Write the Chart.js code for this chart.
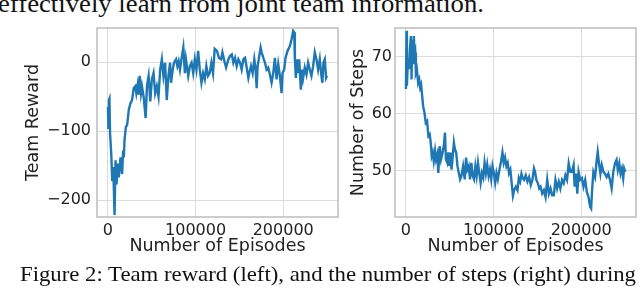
<!DOCTYPE html>
<html><head><meta charset="utf-8">
<script src="https://cdn.jsdelivr.net/npm/chart.js@4/dist/chart.umd.min.js"></script>
<style>
html,body{margin:0;padding:0;background:#fff;width:640px;height:288px;overflow:hidden;position:relative}
.c{position:absolute;top:0;height:288px}
#topText{position:absolute;left:-2px;top:-11px;font-family:"Liberation Serif";font-size:25px;line-height:29px;white-space:nowrap;color:#111;transform-origin:0 0}
#caption{position:absolute;left:20px;top:261px;font-family:"Liberation Serif";font-size:21px;line-height:26px;white-space:nowrap;color:#111;transform-origin:0 0}
</style></head><body>
<div id="topText">effectively learn from joint team information.</div>
<div class="c" style="left:0;width:345px"><canvas id="left"></canvas></div>
<div class="c" style="left:340px;width:300px"><canvas id="right"></canvas></div>
<div id="caption">Figure 2: Team reward (left), and the number of steps (right) during</div>
<script>
// ---- data ----
const xTickValues = [0, 100000, 200000];
const leftYTicks = [-200, -100, 0];
const rightYTicks = [50, 60, 70];

const episodesLeft = [0,500,1100,1700,2400,3770,4900,6030,7540,8670,9800,11300,12400,14300,16200,17300,18100,18900,20400,21900,23800,25600,27500,29400,31300,32400,33900,35100,36200,37700,38800,40700,43000,44500,46400,48300,50100,52000,53900,55800,57700,59600,61500,63300,65200,67100,69000,70900,72000,73900,75400,77700,79200,80700,82200,84100,86000,87800,89000,91600,93500,95400,97300,99100,101000,102900,104800,106700,108600,110500,112300,114200,116100,118000,119900,121800,124400,126700,129100,130600,132900,134800,137500,139400,141300,143100,145000,146900,148800,150700,152600,154500,156400,158300,160200,161300,163200,165100,167000,168500,169700,170800,172300,174200,175400,177300,179200,181000,182900,184800,186700,188600,190500,192400,194300,196200,198100,199200,201100,202600,204900,207600,209500,211400,212500,213300,214400,215500,217100,218200,220100,221600,222700,224600,226500,228400,230300,232200,234100,236000,237900,239800,241700,243600,244700,245900,247400,248900,250000];
const teamReward = [-65,-95,-55,-53,-103,-133,-172,-152,-221,-142,-177,-147,-167,-138,-162,-128,-138,-113,-94,-91,-69,-60,-55,-38,-35,-45,-33,-47,-20,-45,-35,-50,-81,-35,-20,-57,-25,-16,-45,-35,-50,-11,4,-20,-1,-55,-20,-1,-30,-11,-1,4,-6,1,-11,6,21,-16,4,-20,-6,-1,-16,4,-11,16,-11,-30,-16,-25,-6,-20,-16,-1,-16,19,16,6,4,14,1,-8,4,9,11,-1,6,-6,4,-1,-11,4,6,-8,-23,-16,-6,-16,4,-11,-38,-6,6,21,14,6,-1,-11,-8,-18,-30,-16,6,-25,-3,-20,-45,-16,-11,6,16,23,33,45,43,4,-23,4,-16,4,-40,-11,-23,-8,-18,-1,-11,-20,-6,14,4,-11,4,-20,-30,-1,4,-23,-20];

const episodesRight = [0,600,1100,2260,3400,4500,5650,6400,7160,8300,9000,9800,10600,11300,12400,13900,15100,16200,17300,18500,19600,21100,22600,24100,25600,27100,28300,29400,30500,31700,33200,34300,35800,36900,38500,40000,41800,43400,44500,45600,47100,48300,49800,50900,52000,53100,54700,55800,57300,58800,60300,61800,63300,65200,67100,68600,70100,71600,73100,74600,76200,77700,79200,80700,82200,83700,85200,86700,88200,89700,91200,92700,94300,95800,97300,98800,100300,101800,103300,104800,106700,108600,110100,111600,113100,114600,116100,117600,119100,120600,122100,123700,125400,127300,128800,130300,131800,133300,134800,136700,138600,140500,142400,144300,146100,147300,148800,150600,152100,153600,155500,157400,159300,161200,163100,165000,166800,168700,170600,172500,174400,176200,178100,180000,181900,183800,185700,187600,189400,191300,192500,194000,195500,197000,198900,200800,202600,204500,206400,208300,210200,211300,212400,213900,215800,217700,218800,220300,221900,223400,225300,227100,229000,230900,232800,234700,236600,238500,240300,241800,243400,244900,246400,247900,249000,250300];
const numSteps = [64.3,74.5,64.9,69.5,67.8,71.3,73.6,66.0,73.0,68.9,73.6,70.1,70.7,67.2,67.8,65.4,66.0,64.6,65.1,63.1,61.3,60.2,58.4,58.7,56.1,56.4,54.9,52.6,53.2,51.7,53.5,52.0,52.9,49.6,54.3,52.0,53.2,54.6,56.7,52.0,51.4,53.2,50.8,53.2,50.2,52.0,54.9,53.8,53.2,50.8,49.6,48.5,49.1,50.8,48.5,52.3,50.2,50.8,48.5,51.4,49.1,48.5,50.8,49.1,51.4,49.6,47.9,49.6,48.8,51.4,49.6,51.1,49.1,50.2,48.5,50.8,49.6,47.9,49.6,48.5,50.2,51.7,53.2,51.4,52.3,50.8,51.4,49.6,50.2,47.9,45.6,46.7,47.2,46.6,48.7,48.1,49.5,48.7,48.4,49.2,48.1,48.9,47.5,48.4,50.4,49.8,48.4,47.8,46.9,47.2,46.0,46.6,45.4,48.4,46.0,46.9,45.7,45.7,48.4,46.9,48.1,46.9,48.4,47.8,49.2,48.4,51.3,49.8,49.8,51.0,47.2,49.5,46.0,49.8,48.4,48.7,47.2,48.4,46.3,45.4,43.7,43.4,46.6,49.8,48.9,51.9,53.3,51.3,49.5,51.0,49.8,49.5,48.9,49.5,48.4,46.9,49.8,51.3,51.9,50.1,51.3,49.5,50.4,48.7,50.4,49.8];

// ---- text width fitting (styling only) ----
function fitWidth(id, target) {
  const el = document.getElementById(id);
  const w = el.getBoundingClientRect().width;
  el.style.transform = 'scaleX(' + (target / w) + ')';
}
fitWidth('topText', 486);
fitWidth('caption', 616);

// ---- rendering ----
const TICKFONT = {family: 'DejaVu Sans', size: 16};
const TITLEFONT = {family: 'DejaVu Sans', size: 17.5};
const TXT = '#222';
const fmt = v => (v < 0 ? '\u2212' + Math.abs(v) : String(v));
const spines = {
  id: 'spines',
  afterDatasetsDraw(chart) {
    const {ctx, chartArea: a} = chart;
    ctx.save();
    ctx.strokeStyle = '#bdbdbd';
    ctx.lineWidth = 1.5;
    ctx.strokeRect(a.left, a.top, a.right - a.left, a.bottom - a.top);
    ctx.restore();
  }
};

function makeChart(id, xs, ys, o) {
  const pts = xs.map((x, i) => ({x: x, y: ys[i]}));
  return new Chart(document.getElementById(id), {
    type: 'line',
    data: {datasets: [{data: pts, borderColor: '#1f77b4', borderWidth: 2.4, pointRadius: 0, tension: 0, fill: false}]},
    plugins: [spines],
    options: {
      responsive: true, maintainAspectRatio: false, animation: false, events: [],
      layout: {padding: {left: 0, top: 28, right: o.padRight, bottom: 0}},
      plugins: {legend: {display: false}, tooltip: {enabled: false}},
      scales: {
        x: {
          type: 'linear', min: -12500, max: 262500,
          afterBuildTicks: s => { s.ticks = xTickValues.map(v => ({value: v})); },
          afterFit: s => { s.height = 71; },
          grid: {color: '#dcdcdc', lineWidth: 1, drawTicks: false},
          border: {display: false},
          ticks: {padding: 4, color: TXT, font: TICKFONT, maxRotation: 0, autoSkip: false, callback: v => fmt(v)},
          title: {display: true, text: 'Number of Episodes', color: TXT, font: TITLEFONT, padding: {top: 0, bottom: 31}}
        },
        y: {
          type: 'linear', min: o.ymin, max: o.ymax,
          afterBuildTicks: s => { s.ticks = o.yTicks.map(v => ({value: v})); },
          afterFit: s => { s.width = o.yWidth; },
          grid: {color: '#dcdcdc', lineWidth: 1, drawTicks: false},
          border: {display: false},
          ticks: {padding: o.tickPad, color: TXT, font: TICKFONT, autoSkip: false, callback: v => fmt(v)},
          title: {display: true, text: o.yTitle, color: TXT, font: TITLEFONT, padding: {top: o.titlePad, bottom: 0}}
        }
      }
    }
  });
}

makeChart('left', episodesLeft, teamReward, {
  ymin: -224.1, ymax: 49.2, yTicks: leftYTicks, yWidth: 97, padRight: 7, tickPad: 6, titlePad: 23, yTitle: 'Team Reward'
});
makeChart('right', episodesRight, numSteps, {
  ymin: 41.9, ymax: 75.0, yTicks: rightYTicks, yWidth: 55, padRight: 4, tickPad: 3, titlePad: 8, yTitle: 'Number of Steps'
});
</script>
</body></html>
